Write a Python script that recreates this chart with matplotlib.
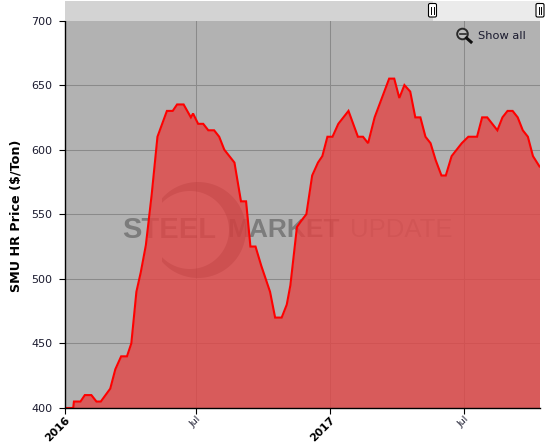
import numpy as np
import matplotlib
matplotlib.use("Agg")
import matplotlib.pyplot as plt
from matplotlib.patches import Rectangle, FancyBboxPatch, Circle, Polygon
from matplotlib.transforms import Affine2D

# days since 2016-01-01
days = [0, 12, 13, 22, 28, 37, 44, 50, 63, 70, 78, 86, 92, 99, 105, 112, 120, 128,
        141, 149, 155, 164, 174, 177, 184, 191, 198, 206, 213, 220, 227, 234, 243,
        250, 256, 263, 271, 283, 290, 299, 306, 311, 320, 326, 333, 341, 349, 355,
        362, 369, 377, 384, 391, 404, 411, 418, 427, 437, 447, 454, 461, 468, 476,
        483, 490, 497, 504, 511, 519, 525, 533, 540, 547, 556, 568, 575, 582, 589,
        596, 603, 610, 617, 624, 631, 638, 645, 654]
price = [400, 400, 405, 405, 410, 410, 405, 405, 415, 430, 440, 440, 450, 490, 505, 526, 565, 610,
         630, 630, 635, 635, 625, 628, 620, 620, 615, 615, 610, 600, 595, 590, 560,
         560, 525, 525, 510, 490, 470, 470, 480, 495, 540, 545, 550, 580, 590, 595,
         610, 610, 620, 625, 630, 610, 610, 605, 625, 640, 655, 655, 640, 650, 645,
         625, 625, 610, 605, 592, 580, 580, 595, 600, 605, 610, 610, 625, 625, 620,
         615, 625, 630, 630, 625, 615, 610, 595, 587]
tick_days = [0, 181, 366, 550]
tick_labels = ["2016", "Jul", "2017", "Jul"]
y_ticks = [400, 450, 500, 550, 600, 650, 700]

W, H = 560, 444
fig = plt.figure(figsize=(W / 100, H / 100), dpi=100, facecolor="white")
ax = fig.add_axes([64.5 / W, (H - 408) / H, 475 / W, 387.5 / H])
ax.set_facecolor("#b2b2b2")
ax.set_xlim(0, 654)
ax.set_ylim(400, 700)

# pixel-space transform for page furniture (top-left origin)
px = Affine2D().scale(1, -1).translate(0, H)

for y in y_ticks[1:-1]:
    ax.axhline(y, color="#8a8a8a", lw=0.75, zorder=1)
for d in tick_days[1:]:
    ax.axvline(d, color="#8a8a8a", lw=0.75, zorder=1)

# watermark ring: a C shape open to the left
def arc(cx, cy, r, a0, a1, n=120):
    t = np.radians(np.linspace(a0, a1, n))
    return np.c_[cx + r * np.cos(t), cy + r * np.sin(t)]

ring_verts = np.vstack([arc(198, 230, 48, 221.4, 498.6), arc(190, 230, 39, 495.9, 224.1)])
ax.add_patch(Polygon(ring_verts, closed=True, transform=px, facecolor="black", edgecolor="none",
                     alpha=0.3, zorder=2))

wm = dict(transform=px, va="center", ha="left", zorder=3, family="Liberation Sans", color="black")
ax.text(122, 230, "STEEL", fontsize=21, fontweight="bold", alpha=0.3, **wm)
ax.text(227, 230, "MARKET", fontsize=19, fontweight="bold", alpha=0.3, **wm)
ax.text(350, 230, "UPDATE", fontsize=18.5, alpha=0.18, **wm)

ax.fill_between(days, price, 400, color=(226 / 255, 70 / 255, 70 / 255), alpha=0.8, lw=0, zorder=4)
ax.plot(days, price, color="#ff0000", lw=1.5, solid_joinstyle="miter", zorder=5, clip_on=True)

for s in ("top", "right"):
    ax.spines[s].set_visible(False)
for s in ("left", "bottom"):
    ax.spines[s].set_linewidth(1)
    ax.spines[s].set_color("black")
    ax.spines[s].set_zorder(6)

ax.set_yticks(y_ticks)
ax.tick_params(axis="y", length=4.3, width=0.8, pad=4.5, labelsize=8, labelcolor="#1a1a2e")
ax.set_xticks(tick_days)
ax.set_xticklabels(tick_labels, rotation=45, ha="right", rotation_mode="anchor")
ax.tick_params(axis="x", length=4.3, width=0.8, pad=0.5, labelcolor="#1a1a2e")
for lab in ax.get_xticklabels():
    if lab.get_text().isdigit():
        lab.set_fontsize(7.8)
        lab.set_fontweight("bold")
        lab.set_color("black")
    else:
        lab.set_fontsize(6.8)

fig.text(16 / W, 1 - 216 / H, "SMU HR Price ($/Ton)", rotation=90, ha="center", va="center",
         fontsize=9.2, fontweight="bold", color="black")

# scrollbar
fig.add_artist(Rectangle((64.5, 1), 368, 19.5, transform=px, facecolor="#d3d3d3", edgecolor="none"))
fig.add_artist(Rectangle((432.5, 1), 107.5, 19.5, transform=px, facecolor="#ebebeb", edgecolor="none"))
for hx in (432.5, 540):
    fig.add_artist(FancyBboxPatch((hx - 4, 3.5), 8, 13.5, boxstyle="round,pad=0,rounding_size=1.5",
                                  transform=px, facecolor="white", edgecolor="black", lw=0.8))
    for dx in (-1.3, 1.3):
        fig.add_artist(plt.Line2D([hx + dx, hx + dx], [6.5, 14], transform=px, color="black", lw=0.7))

# zoom-out control
fig.add_artist(Circle((462.5, 34), 5.3, transform=px, facecolor="#bcbcbc", edgecolor="#2a2a2a", lw=1.4))
fig.add_artist(plt.Line2D([459.5, 465.5], [34, 34], transform=px, color="#2a2a2a", lw=1.2))
fig.add_artist(plt.Line2D([466.5, 471], [38, 42], transform=px, color="#111111", lw=2.2))
fig.text(478 / W, 1 - 36 / H, "Show all", ha="left", va="center", fontsize=8.2, color="#1a1a2e")

fig.savefig("out.png", dpi=100)
